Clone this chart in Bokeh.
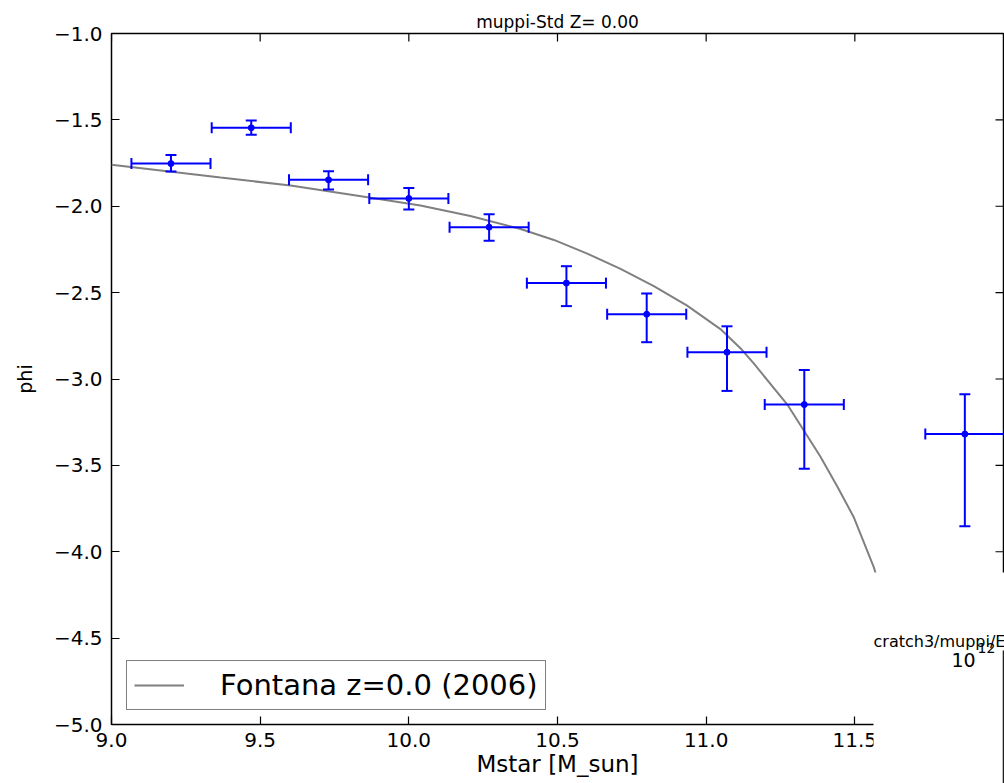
import math
from bokeh.plotting import figure
from bokeh.models import (Range1d, FixedTicker, Whisker, TeeHead,
                          ColumnDataSource, BoxAnnotation, Label, Legend, LegendItem)
from bokeh.embed import file_html
from bokeh.resources import INLINE

# ---------------- data ----------------
mstar = [9.20, 9.47, 9.73, 10.00, 10.27, 10.53, 10.80, 11.07, 11.33, 11.87]
mstar_halfbin = [0.133, 0.133, 0.133, 0.133, 0.133, 0.133, 0.133, 0.133, 0.133, 0.133]
phi = [-1.753, -1.546, -1.847, -1.955, -2.121, -2.445, -2.625, -2.845, -3.148, -3.319]
phi_err_up = [0.050, 0.042, 0.050, 0.060, 0.075, 0.098, 0.120, 0.150, 0.200, 0.230]
phi_err_down = [0.046, 0.040, 0.056, 0.064, 0.079, 0.133, 0.162, 0.224, 0.372, 0.533]

fontana_mstar = [9.000, 9.367, 9.602, 9.867, 10.039, 10.207, 10.376, 10.488, 10.600,
                 10.712, 10.824, 10.936, 11.048, 11.116, 11.160, 11.273, 11.337,
                 11.384, 11.441, 11.497, 11.564, 11.620]
fontana_phi = [-1.760, -1.834, -1.880, -1.949, -1.996, -2.056, -2.132, -2.195, -2.274,
               -2.363, -2.462, -2.575, -2.711, -2.823, -2.910, -3.148, -3.321,
               -3.449, -3.622, -3.802, -4.090, -4.427]

x_ticks = [9.0, 9.5, 10.0, 10.5, 11.0, 11.5]
y_ticks = [-5.0, -4.5, -4.0, -3.5, -3.0, -2.5, -2.0, -1.5, -1.0]
x_lim = (9.0, 12.0)
y_lim = (-5.0, -1.0)

title_text = "muppi-Std Z= 0.00"
x_label = "Mstar [M_sun]"
y_label = "phi"
legend_label = "Fontana z=0.0 (2006)"
overlay_path_text = "cratch3/muppi/E"
overlay_base_text = "10"
overlay_exp_text = "12"

FONT = "DejaVu Sans"
BLUE = "#0000ff"

# ---------------- main figure ----------------
p = figure(width=1004, height=783,
           x_range=Range1d(*x_lim), y_range=Range1d(*y_lim),
           output_backend="svg", toolbar_location=None,
           min_border_left=111, min_border_right=1,
           min_border_top=33, min_border_bottom=59,
           title=title_text)
p.background_fill_color = "white"
p.border_fill_color = "white"
p.outline_line_color = "black"
p.outline_line_width = 1.5
p.xgrid.visible = False
p.ygrid.visible = False

p.title.text_font = FONT
p.title.text_font_size = "17px"
p.title.text_font_style = "normal"
p.title.text_color = "black"
p.title.align = "center"
p.title.standoff = 4


def fmt(v):
    return ("%.1f" % v).replace("-", "\u2212")


def style_axis(ax, ticks):
    ax.ticker = FixedTicker(ticks=ticks)
    ax.major_tick_in = 8
    ax.major_tick_out = 0
    ax.minor_tick_line_color = None
    ax.axis_line_color = None
    ax.major_tick_line_color = "black"
    ax.major_tick_line_width = 1.2
    ax.major_label_overrides = {t: fmt(t) for t in ticks}
    ax.major_label_text_font = FONT
    ax.major_label_text_font_size = "20px"
    ax.major_label_text_color = "black"
    ax.axis_label_text_font = FONT
    ax.axis_label_text_font_style = "normal"
    ax.axis_label_text_color = "black"


xax = p.xaxis[0]
style_axis(xax, x_ticks)
xax.axis_label = x_label
xax.axis_label_text_font_size = "23px"
xax.major_label_standoff = 8
xax.axis_label_standoff = 1

yax = p.yaxis[0]
style_axis(yax, y_ticks)
yax.axis_label = y_label
yax.axis_label_text_font_size = "19px"
yax.major_label_standoff = 9
yax.axis_label_standoff = 15

# inward ticks on the top and right spines (matplotlib style)
p.ray(x=x_ticks, y=[y_lim[1]] * len(x_ticks), length=8, length_units="screen",
      angle=-math.pi / 2, line_color="black", line_width=1.2)
p.ray(x=[x_lim[1]] * len(y_ticks), y=y_ticks, length=8, length_units="screen",
      angle=math.pi, line_color="black", line_width=1.2)

# ---------------- model curve ----------------
curve = p.line(fontana_mstar, fontana_phi, line_color="#808080", line_width=2)

# ---------------- data points with error bars ----------------
src = ColumnDataSource(dict(
    x=mstar, y=phi,
    xl=[m - h for m, h in zip(mstar, mstar_halfbin)],
    xu=[m + h for m, h in zip(mstar, mstar_halfbin)],
    yl=[v - d for v, d in zip(phi, phi_err_down)],
    yu=[v + u for v, u in zip(phi, phi_err_up)],
))
p.scatter("x", "y", source=src, size=6, color=BLUE)

yw = Whisker(base="x", lower="yl", upper="yu", source=src, dimension="height",
             line_color=BLUE, line_width=2, level="glyph",
             lower_head=TeeHead(size=11, line_color=BLUE, line_width=2),
             upper_head=TeeHead(size=11, line_color=BLUE, line_width=2))
xw = Whisker(base="y", lower="xl", upper="xu", source=src, dimension="width",
             line_color=BLUE, line_width=2, level="glyph",
             lower_head=TeeHead(size=11, line_color=BLUE, line_width=2),
             upper_head=TeeHead(size=11, line_color=BLUE, line_width=2))
p.add_layout(yw)
p.add_layout(xw)

# ---------------- legend ----------------
legend = Legend(items=[LegendItem(label=legend_label, renderers=[curve])],
                location=(15, 14), margin=0, padding=7,
                glyph_width=50, glyph_height=20, label_standoff=36,
                label_text_font=FONT, label_text_font_size="29px",
                label_text_color="black",
                border_line_color="black", border_line_width=1.5,
                background_fill_color="white", background_fill_alpha=1.0)
p.add_layout(legend)

# ---------------- overlapping second panel (bottom right) ----------------
# its data coordinates are the page's pixel coordinates of the panel area
inset = figure(width=131, height=211,
               x_range=Range1d(873, 1004), y_range=Range1d(783, 572),
               x_axis_type=None, y_axis_type=None,
               output_backend="svg", toolbar_location=None,
               min_border_left=0, min_border_right=0,
               min_border_top=0, min_border_bottom=0,
               styles={"position": "absolute", "left": "873px", "top": "572px"})
inset.outline_line_color = None
inset.background_fill_color = "white"
inset.border_fill_color = "white"
inset.xgrid.visible = False
inset.ygrid.visible = False
inset.add_layout(BoxAnnotation(left=1002.2, right=1003.8, top=650, bottom=783,
                               fill_color="#222222", fill_alpha=1.0, line_color=None))
inset.add_layout(Label(x=873, y=641, text=overlay_path_text,
                       text_font=FONT, text_font_size="16px", text_color="black",
                       text_baseline="alphabetic"))
inset.add_layout(Label(x=951, y=659, text=overlay_base_text,
                       text_font=FONT, text_font_size="19px", text_color="black",
                       text_baseline="alphabetic"))
inset.add_layout(Label(x=977, y=647, text=overlay_exp_text,
                       text_font=FONT, text_font_size="14px", text_color="black",
                       text_baseline="alphabetic"))

open("out.html", "w").write(file_html([p, inset], INLINE))
